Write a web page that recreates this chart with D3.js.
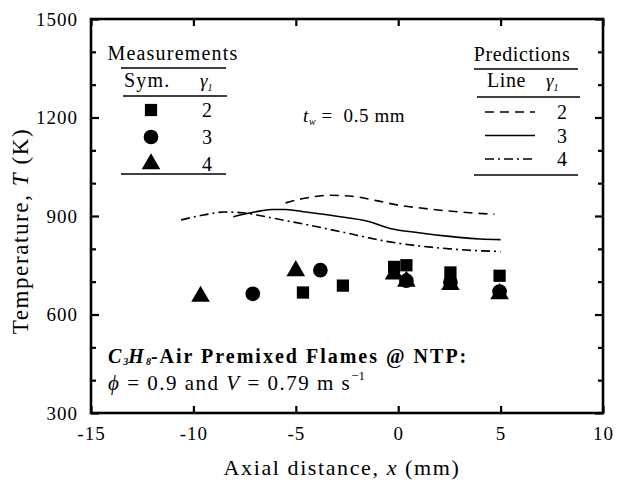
<!DOCTYPE html>
<html>
<head>
<meta charset="utf-8">
<script src="https://cdn.jsdelivr.net/npm/d3@7"></script>
<style>
body{margin:0;background:#fff;}
svg text{font-family:"Liberation Serif","Times New Roman",serif;fill:#000;white-space:pre;}
</style>
</head>
<body>
<div id="chart"></div>
<script>
// measured points, gamma_1 = 2, 3, 4
var sqX = [-4.65, -2.7, -0.2, 0.4, 2.55, 4.95];
var sqT = [667, 688, 745, 750, 728, 718];
var ciX = [-7.1, -3.8, 0.4, 2.55, 4.95];
var ciT = [663, 735, 703, 698, 670];
var trX = [-9.65, -5.0, -0.2, 0.4, 2.55, 4.95];
var trT = [652, 730, 720, 698, 688, 660];

// predicted curves
var dashX = [-5.5, -4.5, -3.3, -2.0, -1.0, 0.0, 1.0, 2.5, 4.7];
var dashT = [940, 955, 963, 958, 946, 933, 925, 915, 905];
var solidX = [-8.05, -7.0, -6.2, -5.5, -4.5, -3.0, -1.5, -0.4, 1.0, 2.5, 4.0, 5.0];
var solidT = [898, 912, 920, 920, 912, 899, 884, 862, 849, 838, 830, 828];
var dotX = [-10.6, -9.5, -8.5, -7.6, -6.9, -5.5, -4.5, -2.5, -0.5, 1.0, 2.5, 4.0, 5.0];
var dotT = [888, 903, 912, 910, 903, 886, 874, 848, 822, 809, 800, 794, 792];

var xTicks = [-15, -10, -5, 0, 5, 10];
var yTicks = [300, 600, 900, 1200, 1500];
var yMinor = [400, 500, 700, 800, 1000, 1100, 1300, 1400];

var W = 619, H = 484;
var L = 91, R = 603, T = 19, B = 413;

var svg = d3.select("#chart").append("svg").attr("width", W).attr("height", H);
var x = d3.scaleLinear().domain([-15, 10]).range([L, R]);
var y = d3.scaleLinear().domain([300, 1500]).range([B, T]);

// hyphen minus like the original
var fmt = function(d){ return String(d); };

// axes with inward ticks
function styleAxis(g){
  g.select(".domain").remove();
  g.selectAll("line").attr("stroke", "#000").attr("stroke-width", 2.2);
  g.selectAll("text").attr("font-size", 19).attr("letter-spacing", 1).attr("font-family", "Liberation Serif");
}
svg.append("g").attr("transform", "translate(0," + B + ")")
  .call(d3.axisBottom(x).tickValues(xTicks).tickSize(-7).tickPadding(14).tickFormat(fmt))
  .call(styleAxis);
svg.append("g").attr("transform", "translate(0," + T + ")")
  .call(d3.axisTop(x).tickValues(xTicks).tickSize(-7).tickFormat(""))
  .call(styleAxis);
svg.append("g").attr("transform", "translate(" + L + ",0)")
  .call(d3.axisLeft(y).tickValues(yTicks).tickSize(-8).tickPadding(13).tickFormat(fmt))
  .call(styleAxis);
svg.append("g").attr("transform", "translate(" + L + ",0)")
  .call(d3.axisLeft(y).tickValues(yMinor).tickSize(-5).tickFormat(""))
  .call(styleAxis);
svg.append("g").attr("transform", "translate(" + R + ",0)")
  .call(d3.axisRight(y).tickValues(yTicks).tickSize(-8).tickFormat(""))
  .call(styleAxis);
svg.append("g").attr("transform", "translate(" + R + ",0)")
  .call(d3.axisRight(y).tickValues(yMinor).tickSize(-5).tickFormat(""))
  .call(styleAxis);

svg.append("rect").attr("x", L).attr("y", T).attr("width", R - L).attr("height", B - T)
  .attr("fill", "none").attr("stroke", "#000").attr("stroke-width", 2.6);

// axis titles
svg.append("text").attr("x", (L + R) / 2 - 5).attr("y", 475).attr("text-anchor", "middle")
  .attr("font-size", 22).attr("letter-spacing", 1.6)
  .html('Axial distance, <tspan font-style="italic">x</tspan> (mm)');
svg.append("text").attr("transform", "translate(28," + ((T + B) / 2 + 15) + ") rotate(-90)")
  .attr("text-anchor", "middle").attr("font-size", 23).attr("letter-spacing", 1.6)
  .html('Temperature, <tspan font-style="italic">T</tspan> (K)');

// prediction lines
var line = d3.line().x(function(d){ return x(d[0]); }).y(function(d){ return y(d[1]); }).curve(d3.curveMonotoneX);
function zip(a, b){ return a.map(function(v, i){ return [v, b[i]]; }); }
svg.append("path").attr("d", line(zip(dashX, dashT))).attr("fill", "none").attr("stroke", "#000")
  .attr("stroke-width", 1.6).attr("stroke-dasharray", "9,6");
svg.append("path").attr("d", line(zip(solidX, solidT))).attr("fill", "none").attr("stroke", "#000")
  .attr("stroke-width", 1.6);
svg.append("path").attr("d", line(zip(dotX, dotT))).attr("fill", "none").attr("stroke", "#000")
  .attr("stroke-width", 1.6).attr("stroke-dasharray", "9,4,2,4");

// markers
var sq = d3.symbol().type(d3.symbolSquare).size(150);
var ci = d3.symbol().type(d3.symbolCircle).size(170);
var tr = d3.symbol().type(d3.symbolTriangle).size(150);
svg.selectAll(".sq").data(zip(sqX, sqT)).enter().append("path")
  .attr("d", sq).attr("transform", function(d){ return "translate(" + x(d[0]) + "," + y(d[1]) + ")"; });
svg.selectAll(".tr").data(zip(trX, trT)).enter().append("path")
  .attr("d", tr).attr("transform", function(d){ return "translate(" + x(d[0]) + "," + (y(d[1]) - 1) + ")"; });
svg.selectAll(".ci").data(zip(ciX, ciT)).enter().append("path")
  .attr("d", ci).attr("transform", function(d){ return "translate(" + x(d[0]) + "," + y(d[1]) + ")"; });

// measurements legend
var lg = svg.append("g");
lg.append("text").attr("x", 173).attr("y", 60).attr("text-anchor", "middle").attr("font-size", 20).attr("letter-spacing", 1.2).text("Measurements");
lg.append("line").attr("x1", 121).attr("x2", 226).attr("y1", 68).attr("y2", 68).attr("stroke", "#000").attr("stroke-width", 1.5);
lg.append("text").attr("x", 124).attr("y", 87).attr("font-size", 20).attr("letter-spacing", 1.2).text("Sym.");
lg.append("text").attr("x", 200).attr("y", 87).attr("font-size", 19).attr("font-style", "italic")
  .html('γ<tspan font-size="10" dy="4">1</tspan>');
lg.append("line").attr("x1", 123).attr("x2", 227).attr("y1", 96).attr("y2", 96).attr("stroke", "#000").attr("stroke-width", 1.5);
var mLab = ["2", "3", "4"];
var mSym = [sq, ci, tr];
mLab.forEach(function(t, i){
  var yy = 110 + i * 27;
  lg.append("path").attr("d", mSym[i]).attr("transform", "translate(151," + yy + ")");
  lg.append("text").attr("x", 207).attr("y", yy + 7).attr("font-size", 20).attr("text-anchor", "middle").text(t);
});
lg.append("line").attr("x1", 121).attr("x2", 226).attr("y1", 174).attr("y2", 174).attr("stroke", "#000").attr("stroke-width", 1.5);

// predictions legend
var pg = svg.append("g");
pg.append("text").attr("x", 522).attr("y", 61).attr("text-anchor", "middle").attr("font-size", 20).attr("letter-spacing", 0.6).text("Predictions");
pg.append("line").attr("x1", 474).attr("x2", 578).attr("y1", 69).attr("y2", 69).attr("stroke", "#000").attr("stroke-width", 1.5);
pg.append("text").attr("x", 487).attr("y", 87).attr("font-size", 20).attr("letter-spacing", 0.6).text("Line");
pg.append("text").attr("x", 546).attr("y", 87).attr("font-size", 19).attr("font-style", "italic")
  .html('γ<tspan font-size="10" dy="4">1</tspan>');
pg.append("line").attr("x1", 477).attr("x2", 580).attr("y1", 97).attr("y2", 97).attr("stroke", "#000").attr("stroke-width", 1.5);
var pDash = ["9,6", null, "9,4,2,4"];
mLab.forEach(function(t, i){
  var yy = 112 + i * 23.5;
  var l = pg.append("line").attr("x1", 485).attr("x2", 535).attr("y1", yy).attr("y2", yy)
    .attr("stroke", "#000").attr("stroke-width", 1.6);
  if (pDash[i]) l.attr("stroke-dasharray", pDash[i]);
  pg.append("text").attr("x", 562).attr("y", yy + 7).attr("font-size", 20).attr("text-anchor", "middle").text(t);
});
pg.append("line").attr("x1", 474).attr("x2", 578).attr("y1", 175).attr("y2", 175).attr("stroke", "#000").attr("stroke-width", 1.5);

// wall thickness note
svg.append("text").attr("x", 303).attr("y", 122).attr("font-size", 19).attr("letter-spacing", 0.6)
  .html('<tspan font-style="italic">t</tspan><tspan font-style="italic" font-size="10" dy="3">w</tspan><tspan dy="-3"> =  0.5 mm</tspan>');

// conditions note
svg.append("text").attr("x", 108).attr("y", 363).attr("font-size", 20).attr("font-weight", "bold").attr("letter-spacing", 2)
  .html('<tspan font-style="italic">C</tspan><tspan font-style="italic" font-size="10" dy="2" letter-spacing="0">3</tspan><tspan font-style="italic" dy="-2">H</tspan><tspan font-style="italic" font-size="10" dy="2" letter-spacing="0">8</tspan><tspan dy="-2">-Air Premixed Flames @ NTP:</tspan>');
svg.append("text").attr("x", 108).attr("y", 390).attr("font-size", 21).attr("letter-spacing", 1.5)
  .html('<tspan font-style="italic">ϕ</tspan> = 0.9 and <tspan font-style="italic">V</tspan> = 0.79 m s<tspan font-size="13" dy="-10" letter-spacing="0">−1</tspan>');
</script>
</body>
</html>
